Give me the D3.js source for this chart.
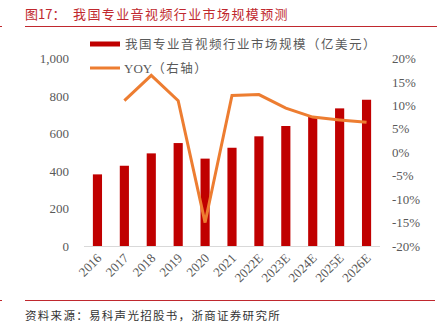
<!DOCTYPE html>
<html><head><meta charset="utf-8">
<script src="https://cdn.jsdelivr.net/npm/d3@7"></script>
<style>body{margin:0;background:#fff}svg{display:block}</style>
</head><body>
<svg id="c" width="437" height="331"></svg>
<script>
const categories = ["2016","2017","2018","2019","2020","2021","2022E","2023E","2024E","2025E","2026E"];
const marketSize = [382, 428, 494, 549, 466, 524, 585, 640, 690, 734, 780];
const yoy = [null, 11.0, 16.4, 11.0, -15.0, 12.1, 12.3, 9.4, 7.5, 6.9, 6.4];
const leftTicks = [0, 200, 400, 600, 800, 1000];
const rightTicks = [-20, -15, -10, -5, 0, 5, 10, 15, 20];
const titleNo = "图17：";
const title = "我国专业音视频行业市场规模预测";
const barName = "我国专业音视频行业市场规模（亿美元）";
const lineName = "YOY";
const lineNote = "（右轴）";
const source = "资料来源：易科声光招股书，浙商证券研究所";

const svg = d3.select("#c");
const serif = "'Liberation Serif','Noto Sans CJK SC',serif";
const cjk = "'Noto Sans CJK SC',sans-serif";
const red = "#C00000", orange = "#ED7D31", gray = "#595959";

// header
svg.append("text").attr("x", 25).attr("y", 19).attr("fill", "#C0282E")
  .attr("font-family", cjk).attr("font-size", 13).text(titleNo);
svg.append("text").attr("x", 73).attr("y", 19).attr("fill", "#C0282E")
  .attr("font-family", cjk).attr("font-size", 13).attr("letter-spacing", 1.4).text(title);
svg.append("line").attr("x1", 25).attr("x2", 437).attr("y1", 26.5).attr("y2", 26.5)
  .attr("stroke", "#C0282E").attr("stroke-width", 1);
svg.append("line").attr("x1", 0).attr("x2", 2).attr("y1", 26.5).attr("y2", 26.5)
  .attr("stroke", "#C0282E").attr("stroke-width", 1);

const x = d3.scaleBand().domain(categories).range([84, 380]).paddingInner(0.66).paddingOuter(0.33);
const yL = d3.scaleLinear().domain([0, 1000]).range([246, 58.5]);
const yR = d3.scaleLinear().domain([-20, 20]).range([246, 58.5]);

// axis line
svg.append("line").attr("x1", 84).attr("x2", 380).attr("y1", 246.5).attr("y2", 246.5)
  .attr("stroke", "#D9D9D9").attr("stroke-width", 1);

// left axis
const fmt = d3.format(",");
const la = svg.append("g").attr("transform", "translate(69,0)")
  .call(d3.axisLeft(yL).tickValues(leftTicks).tickFormat(fmt).tickSize(0).tickPadding(0));
la.select(".domain").remove();
la.selectAll("text").attr("font-family", serif).attr("font-size", 13).attr("fill", gray);

// right axis
const ra = svg.append("g").attr("transform", "translate(392,0)")
  .call(d3.axisRight(yR).tickValues(rightTicks).tickFormat(d => d + "%").tickSize(0).tickPadding(0));
ra.select(".domain").remove();
ra.selectAll("text").attr("font-family", serif).attr("font-size", 13).attr("fill", gray);

// bars
svg.append("g").selectAll("rect").data(categories).join("rect")
  .attr("x", d => x(d)).attr("width", x.bandwidth())
  .attr("y", (d, i) => yL(marketSize[i])).attr("height", (d, i) => yL(0) - yL(marketSize[i]))
  .attr("fill", red);

// line
const pts = categories.map((c, i) => ({c, v: yoy[i]})).filter(p => p.v !== null);
svg.append("path").datum(pts)
  .attr("d", d3.line().x(p => x(p.c) + x.bandwidth() / 2).y(p => yR(p.v)))
  .attr("fill", "none").attr("stroke", orange).attr("stroke-width", 3);

// x labels
const xa = svg.append("g").attr("transform", "translate(0,246)")
  .call(d3.axisBottom(x).tickSize(0).tickPadding(0));
xa.select(".domain").remove();
xa.selectAll("text").attr("font-family", serif).attr("font-size", 13).attr("fill", gray)
  .attr("text-anchor", "end").attr("dy", 0)
  .attr("transform", "translate(5,13) rotate(-45)");

// legend
svg.append("rect").attr("x", 90).attr("y", 41.5).attr("width", 30).attr("height", 5).attr("fill", red);
svg.append("text").attr("x", 125).attr("y", 49).attr("font-family", cjk).attr("font-size", 12.5)
  .attr("letter-spacing", 1.5).attr("fill", gray).text(barName);
svg.append("line").attr("x1", 90).attr("x2", 120).attr("y1", 68).attr("y2", 68)
  .attr("stroke", orange).attr("stroke-width", 3);
const lt = svg.append("text").attr("x", 124).attr("y", 73).attr("font-size", 13).attr("fill", gray);
lt.append("tspan").attr("font-family", serif).text(lineName);
lt.append("tspan").attr("font-family", cjk).attr("font-size", 12.5).attr("letter-spacing", 1.5).text(lineNote);

// footer
svg.append("line").attr("x1", 25).attr("x2", 435).attr("y1", 300.5).attr("y2", 300.5)
  .attr("stroke", "#C0282E").attr("stroke-width", 1);
svg.append("line").attr("x1", 0).attr("x2", 2).attr("y1", 300.5).attr("y2", 300.5)
  .attr("stroke", "#C0282E").attr("stroke-width", 1);
svg.append("text").attr("x", 25).attr("y", 320).attr("font-family", cjk).attr("font-size", 11.5)
  .attr("letter-spacing", 1.3).attr("fill", "#333").text(source);
</script>
</body></html>
